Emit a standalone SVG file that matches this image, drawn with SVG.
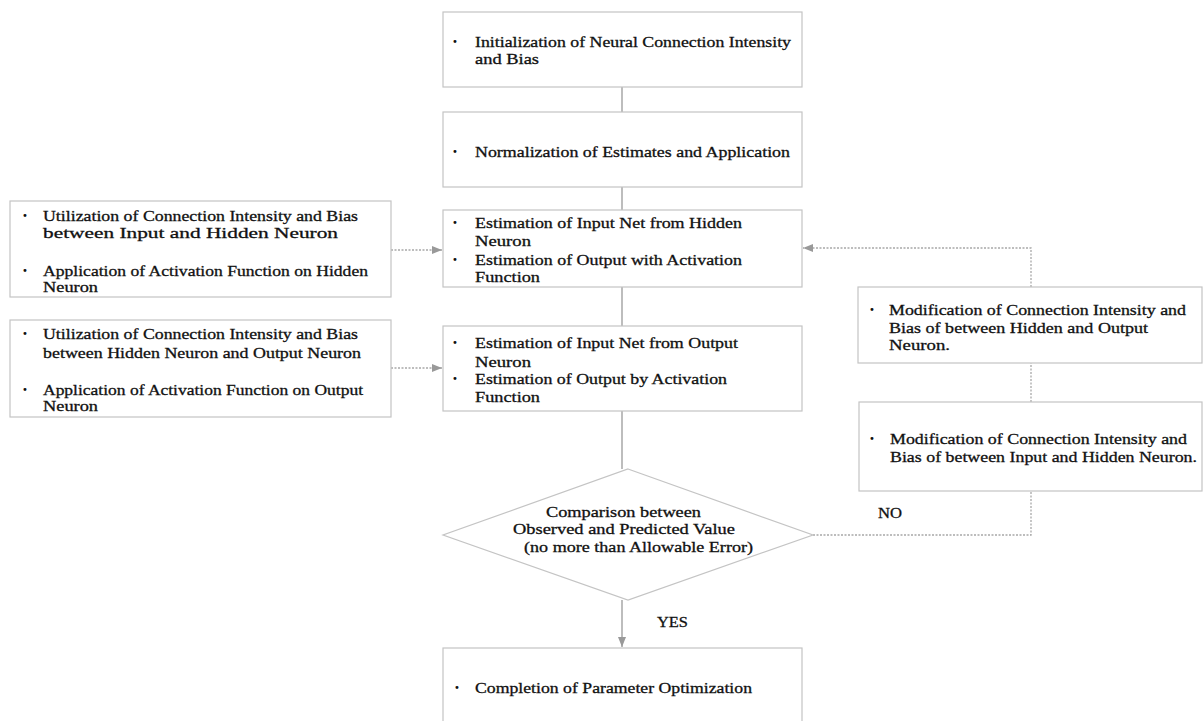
<svg xmlns="http://www.w3.org/2000/svg" width="1203" height="721" viewBox="0 0 1203 721">
<style>
.box{fill:#fff;stroke:#c4c4c4;stroke-width:1.2}
.t{font-family:"Liberation Serif","Times New Roman",serif;font-size:15px;fill:#111;stroke:#111;stroke-width:0.3}
.b{font-family:"DejaVu Sans",sans-serif;font-size:10px;fill:#111}
.solid{fill:none;stroke:#9a9a9a;stroke-width:1.3}
.dot{fill:none;stroke:#a8a8a8;stroke-width:1.3;stroke-dasharray:2 1.5}
</style>
<defs>
<marker id="ah" viewBox="0 0 10 10" refX="10" refY="5" markerWidth="10" markerHeight="10" markerUnits="userSpaceOnUse" orient="auto">
<path d="M0,1 L10,5 L0,9 Z" fill="#999"/>
</marker>
</defs>
<rect width="1203" height="721" fill="#fff"/>
<g id="connectors">
<line class="solid" x1="622" y1="87" x2="622" y2="112"/>
<line class="solid" x1="622" y1="187" x2="622" y2="210"/>
<line class="solid" x1="622" y1="287" x2="622" y2="326"/>
<line class="solid" x1="622" y1="411" x2="622" y2="469"/>
<line class="solid" x1="622" y1="600" x2="622" y2="647" marker-end="url(#ah)"/>
<line class="dot" x1="391" y1="250" x2="442" y2="250" marker-end="url(#ah)"/>
<line class="dot" x1="391" y1="368" x2="442" y2="368" marker-end="url(#ah)"/>
<polyline class="dot" points="813,535 1031,535 1031,491"/>
<line class="dot" x1="1031" y1="402" x2="1031" y2="363"/>
<polyline class="dot" points="1031,287 1031,248 803,248" marker-end="url(#ah)"/>
<text class="t" x="878" y="518" textLength="24" lengthAdjust="spacingAndGlyphs">NO</text>
<text class="t" x="657" y="627" textLength="31" lengthAdjust="spacingAndGlyphs">YES</text>
</g>
<g id="n1">
<rect class="box" x="443" y="12" width="359" height="75"/>
<text class="b" x="452" y="45">•</text>
<text class="t" x="475" y="47" textLength="316" lengthAdjust="spacingAndGlyphs">Initialization of Neural Connection Intensity</text>
<text class="t" x="475" y="64" textLength="64" lengthAdjust="spacingAndGlyphs">and Bias</text>
</g>
<g id="n2">
<rect class="box" x="443" y="112" width="359" height="75"/>
<text class="b" x="452" y="155">•</text>
<text class="t" x="475" y="157" textLength="315" lengthAdjust="spacingAndGlyphs">Normalization of Estimates and Application</text>
</g>
<g id="n3">
<rect class="box" x="443" y="210" width="359" height="77"/>
<text class="b" x="452" y="226">•</text>
<text class="t" x="475" y="228" textLength="267" lengthAdjust="spacingAndGlyphs">Estimation of Input Net from Hidden</text>
<text class="t" x="475" y="246" textLength="56" lengthAdjust="spacingAndGlyphs">Neuron</text>
<text class="b" x="452" y="263">•</text>
<text class="t" x="475" y="265" textLength="267" lengthAdjust="spacingAndGlyphs">Estimation of Output with Activation</text>
<text class="t" x="475" y="282" textLength="65" lengthAdjust="spacingAndGlyphs">Function</text>
</g>
<g id="n4">
<rect class="box" x="443" y="326" width="359" height="85"/>
<text class="b" x="452" y="346">•</text>
<text class="t" x="475" y="348" textLength="263" lengthAdjust="spacingAndGlyphs">Estimation of Input Net from Output</text>
<text class="t" x="475" y="367" textLength="56" lengthAdjust="spacingAndGlyphs">Neuron</text>
<text class="b" x="452" y="382">•</text>
<text class="t" x="475" y="384" textLength="252" lengthAdjust="spacingAndGlyphs">Estimation of Output by Activation</text>
<text class="t" x="475" y="402" textLength="65" lengthAdjust="spacingAndGlyphs">Function</text>
</g>
<g id="l1">
<rect class="box" x="10" y="201" width="381" height="96"/>
<text class="b" x="22" y="219">•</text>
<text class="t" x="43" y="221" textLength="315" lengthAdjust="spacingAndGlyphs">Utilization of Connection Intensity and Bias</text>
<text class="t" x="43" y="238" textLength="295" lengthAdjust="spacingAndGlyphs">between Input and Hidden Neuron</text>
<text class="b" x="22" y="274">•</text>
<text class="t" x="43" y="276" textLength="325" lengthAdjust="spacingAndGlyphs">Application of Activation Function on Hidden</text>
<text class="t" x="43" y="292" textLength="55" lengthAdjust="spacingAndGlyphs">Neuron</text>
</g>
<g id="l2">
<rect class="box" x="10" y="320" width="381" height="97"/>
<text class="b" x="22" y="337">•</text>
<text class="t" x="43" y="339" textLength="315" lengthAdjust="spacingAndGlyphs">Utilization of Connection Intensity and Bias</text>
<text class="t" x="43" y="358" textLength="318" lengthAdjust="spacingAndGlyphs">between Hidden Neuron and Output Neuron</text>
<text class="b" x="22" y="393">•</text>
<text class="t" x="43" y="395" textLength="320" lengthAdjust="spacingAndGlyphs">Application of Activation Function on Output</text>
<text class="t" x="43" y="411" textLength="55" lengthAdjust="spacingAndGlyphs">Neuron</text>
</g>
<g id="r1">
<rect class="box" x="858" y="287" width="344" height="76"/>
<text class="b" x="869" y="313">•</text>
<text class="t" x="889" y="315" textLength="297" lengthAdjust="spacingAndGlyphs">Modification of Connection Intensity and</text>
<text class="t" x="889" y="333" textLength="259" lengthAdjust="spacingAndGlyphs">Bias of between Hidden and Output</text>
<text class="t" x="889" y="350" textLength="61" lengthAdjust="spacingAndGlyphs">Neuron.</text>
</g>
<g id="r2">
<rect class="box" x="859" y="402" width="343" height="89"/>
<text class="b" x="869" y="442">•</text>
<text class="t" x="890" y="444" textLength="297" lengthAdjust="spacingAndGlyphs">Modification of Connection Intensity and</text>
<text class="t" x="890" y="462" textLength="307" lengthAdjust="spacingAndGlyphs">Bias of between Input and Hidden Neuron.</text>
</g>
<g id="d1">
<polygon class="box" points="628,469 813,535 628,600 443,535"/>
<text class="t" x="546" y="517" textLength="155" lengthAdjust="spacingAndGlyphs">Comparison between</text>
<text class="t" x="513" y="534" textLength="222" lengthAdjust="spacingAndGlyphs">Observed and Predicted Value</text>
<text class="t" x="524" y="552" textLength="229" lengthAdjust="spacingAndGlyphs">(no more than Allowable Error)</text>
</g>
<g id="n5">
<rect class="box" x="443" y="648" width="359" height="90"/>
<text class="b" x="454" y="691">•</text>
<text class="t" x="475" y="693" textLength="277" lengthAdjust="spacingAndGlyphs">Completion of Parameter Optimization</text>
</g>
</svg>
